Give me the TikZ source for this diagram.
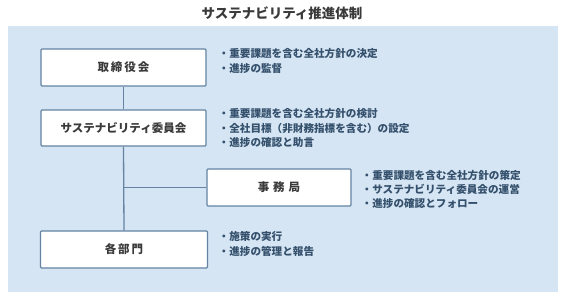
\documentclass[tikz,border=0pt]{standalone}
\usepackage{fontspec}
\setmainfont{Noto Sans CJK JP}
\definecolor{bgblue}{HTML}{D5E5F3}
\definecolor{boxline}{HTML}{6584A3}
\definecolor{bultext}{HTML}{34506C}
\definecolor{boxtext}{HTML}{3A3A3A}
\begin{document}
\begin{tikzpicture}[x=1pt,y=-1pt,
  orgbox/.style={draw=boxline,line width=1.3pt,fill=white,rounded corners=1pt,inner sep=0pt,text=boxtext,font=\fontsize{11.5}{12}\selectfont\bfseries},
  conn/.style={draw=boxline,line width=1.3pt},
  bullets/.style={anchor=north west,align=left,text=bultext,inner sep=0pt,font=\fontsize{10.6}{14.2}\selectfont\bfseries}]
\useasboundingbox (0,0) rectangle (564,300);
\node[font=\fontsize{13.5}{14}\selectfont\bfseries,text=boxtext] (title) at (282,13) {サステナビリティ推進体制};
\fill[bgblue] (8,26) rectangle (558,292);
\node[orgbox,minimum width=165pt,minimum height=37pt] (bod) at (123.5,67.5) {取\hspace{2pt}締\hspace{2pt}役\hspace{2pt}会};
\node[orgbox,minimum width=165pt,minimum height=36pt] (sc) at (123.5,128) {サステナビリティ委員会};
\node[orgbox,minimum width=144pt,minimum height=37pt] (sec) at (279,187.5) {事\hspace{4pt}務\hspace{4pt}局};
\node[orgbox,minimum width=167pt,minimum height=37pt] (dept) at (124,249.5) {各\hspace{2pt}部\hspace{2pt}門};
\coordinate (br) at (bod.south |- sec.west);
\draw[conn] (bod.south) -- (sc.north);
\draw[conn] (sc.south) -- (dept.north);
\draw[conn] (br) -- (sec.west);
\node[bullets] (b1) at (218.5,48.5) {・重要課題を含む全社方針の決定\\・進捗の監督};
\node[bullets] (b2) at (218.5,108.5) {・重要課題を含む全社方針の検討\\・全社目標（非財務指標を含む）の設定\\・進捗の確認と助言};
\node[bullets] (b3) at (361.5,170) {・重要課題を含む全社方針の策定\\・サステナビリティ委員会の運営\\・進捗の確認とフォロー};
\node[bullets] (b4) at (218.5,231.5) {・施策の実行\\・進捗の管理と報告};
\end{tikzpicture}
\end{document}
